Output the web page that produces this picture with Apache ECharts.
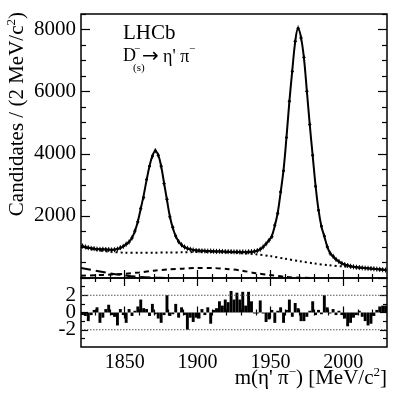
<!DOCTYPE html>
<html>
<head>
<meta charset="utf-8">
<script src="https://cdn.jsdelivr.net/npm/echarts@6/dist/echarts.min.js"></script>
<style>
  html, body { margin: 0; padding: 0; background: #fff; }
  #chart { width: 407px; height: 397px; }
</style>
</head>
<body>
<div id="chart"></div>
<script>
const SERIF = '"Liberation Serif", "DejaVu Serif", serif';

// mass range and binning (2 MeV bins)
const xMin = 1820;
const xMax = 2030;
const binWidth = 2;

// candidates per bin (bin centres 1821 ... 2029)
const counts = [
  1030, 1000, 975, 955, 945, 930, 920, 925, 920, 915,
  905, 910, 930, 975, 1020, 1090, 1160, 1290, 1510, 1810,
  2240, 2590, 3170, 3600, 3920, 4100, 3950, 3600, 3040, 2530,
  1970, 1630, 1350, 1170, 1070, 1000, 955, 925, 900, 885,
  880, 872, 870, 865, 868, 860, 858, 860, 855, 850,
  848, 850, 842, 845, 838, 842, 835, 845, 850, 860,
  880, 925, 1000, 1100, 1210, 1330, 1700, 2080, 2770, 3450,
  4520, 5690, 6650, 7620, 8040, 7730, 7100, 6010, 4940, 3950,
  2950, 2180, 1670, 1350, 1005, 795, 700, 600, 530, 470,
  432, 402, 378, 360, 347, 336, 326, 318, 311, 304,
  296, 286, 276, 265, 256
];

// total fit, same bin centres
const fitTotal = [
  1010, 990, 972, 958, 945, 935, 927, 920, 915, 912,
  912, 918, 932, 965, 1015, 1085, 1165, 1295, 1510, 1820,
  2230, 2660, 3150, 3600, 3930, 4090, 3960, 3600, 3060, 2510,
  1980, 1610, 1350, 1175, 1065, 995, 950, 922, 905, 893,
  885, 878, 872, 867, 863, 859, 855, 852, 848, 845,
  842, 838, 835, 832, 830, 828, 827, 830, 838, 852,
  878, 925, 1000, 1100, 1215, 1360, 1680, 2100, 2760, 3480,
  4520, 5680, 6680, 7600, 8040, 7740, 7080, 6020, 4930, 3940,
  2960, 2190, 1660, 1340, 1010, 800, 695, 598, 528, 472,
  433, 403, 380, 362, 348, 337, 327, 319, 311, 303,
  295, 286, 277, 266, 256
];

// background components
const bkgMass = [1820, 1830, 1840, 1850, 1860, 1870, 1880, 1890, 1900, 1910, 1920,
                 1930, 1940, 1950, 1960, 1970, 1980, 1990, 2000, 2010, 2020, 2030];
const bkgTotal = [1000, 905, 845, 815, 812, 815, 820, 828, 835, 835, 822,
                  800, 765, 705, 620, 540, 468, 412, 370, 335, 298, 255];
const longDashMass = [1820, 1830, 1840, 1850, 1860, 1870, 1880];
const longDashVals = [320, 235, 150, 85, 35, 10, 0];
const shortDashMass = [1820, 1830, 1840, 1850, 1860, 1870, 1880, 1890, 1900,
                       1910, 1920, 1930, 1940, 1950, 1960, 1970, 1980];
const shortDashVals = [70, 90, 110, 135, 180, 235, 275, 300, 325,
                       322, 292, 240, 155, 95, 35, 10, 0];

// pulls per bin
const pulls = [
  -0.3, -0.4, -1.0, -0.3, 0.3, 0.6, -1.2, -0.6, 0.4, 0.9,
  -0.3, -0.5, -1.5, 0.4, -0.3, -1.2, 0.4, -0.4, 0.2, 0.7,
  1.5, 0.5, 0.4, -0.4, 1.0, -0.2, -0.7, -1.2, -0.3, 2.0,
  -0.4, -0.2, 1.0, -0.6, 0.6, -0.3, -2.0, -0.6, -1.1, -0.6,
  -0.7, 0.4, -0.3, 0.6, -1.3, 0.3, 0.5, 1.3, 0.8, 1.5,
  1.2, 2.5, 1.5, 2.3, 1.5, 2.4, 0.8, 2.4, 1.3, -0.1,
  0.0, 1.4, -0.1, -1.1, -0.8, 0.3, -1.2, 0.2, 0.6, -1.2,
  0.3, 1.5, -0.5, 1.1, 0.5, -1.0, -1.0, -0.5, 0.2, 1.3,
  -0.3, 0.3, -0.2, 2.0, 0.6, -0.1, 0.4, -0.3, 0.2, -0.3,
  -0.7, -1.6, -1.2, -0.6, -0.3, 0.2, -0.5, -1.0, -1.5, -1.3,
  -0.4, 0.3, 0.7, 0.8, 0.8
];

// tick positions
const xMajor = [1850, 1900, 1950, 2000];
const xMinor = [1830, 1840, 1860, 1870, 1880, 1890, 1910, 1920, 1930, 1940, 1960, 1970, 1980, 1990, 2010, 2020];
const yMajor = [0, 2000, 4000, 6000, 8000];
const yLabels = [2000, 4000, 6000, 8000];
const yMinor = [500, 1000, 1500, 2500, 3000, 3500, 4500, 5000, 5500, 6500, 7000, 7500, 8500];
const pullMajor = [-2, 0, 2];
const pullMinor = [-3, -1, 1, 3];
const pullLabels = [2, 0, -2];
const pullBand = [-2, 2];

const binCenters = counts.map((_, i) => xMin + binWidth * (i + 0.5));

const chart = echarts.init(document.getElementById('chart'));

const tickStyle = { color: '#000', width: 1.2 };
const plain = (v) => String(v);

function xAxisFor(grid, pos, ticks, len, labels) {
  return {
    type: 'value', gridIndex: grid, position: pos, min: xMin, max: xMax,
    axisLine: { show: false }, splitLine: { show: false },
    axisTick: { show: true, inside: true, length: len, customValues: ticks, lineStyle: tickStyle },
    axisLabel: labels
      ? { show: true, customValues: xMajor, interval: 0, hideOverlap: false, formatter: plain,
          margin: 6, color: '#000', fontSize: 20, fontFamily: SERIF }
      : { show: false }
  };
}

function yAxisFor(grid, pos, lo, hi, ticks, len, labels) {
  return {
    type: 'value', gridIndex: grid, position: pos, min: lo, max: hi,
    axisLine: { show: false }, splitLine: { show: false },
    axisTick: ticks
      ? { show: true, inside: true, length: len, customValues: ticks, lineStyle: tickStyle }
      : { show: false },
    axisLabel: labels
      ? { show: true, customValues: labels, interval: 0, hideOverlap: false, formatter: plain,
          margin: 5, color: '#000', fontSize: 21, fontFamily: SERIF }
      : { show: false }
  };
}

const option = {
  animation: false,
  grid: [
    { left: 81, top: 14, width: 306, height: 264, show: true, borderColor: '#000', borderWidth: 1.5, backgroundColor: 'transparent' },
    { left: 81, top: 278, width: 306, height: 69, show: true, borderColor: '#000', borderWidth: 1.5, backgroundColor: 'transparent' }
  ],
  xAxis: [
    xAxisFor(0, 'bottom', xMajor, 8, false),
    xAxisFor(0, 'bottom', xMinor, 4, false),
    xAxisFor(0, 'top', xMajor, 8, false),
    xAxisFor(0, 'top', xMinor, 4, false),
    xAxisFor(1, 'bottom', xMajor, 6, true),
    xAxisFor(1, 'bottom', xMinor, 3, false),
    xAxisFor(1, 'top', xMajor, 6, false),
    xAxisFor(1, 'top', xMinor, 3, false)
  ],
  yAxis: [
    yAxisFor(0, 'left', 0, 8500, yMajor, 9, yLabels),
    yAxisFor(0, 'left', 0, 8500, yMinor, 5, null),
    yAxisFor(0, 'right', 0, 8500, yMajor, 9, null),
    yAxisFor(0, 'right', 0, 8500, yMinor, 5, null),
    yAxisFor(1, 'left', -4, 4, pullMajor, 7, null),
    yAxisFor(1, 'left', -4, 4, pullMinor, 4, null),
    yAxisFor(1, 'right', -4, 4, pullMajor, 7, null),
    yAxisFor(1, 'right', -4, 4, pullMinor, 4, null),
    // one axis per pull label so the close-packed labels are not dropped
    ...pullLabels.map((v) => yAxisFor(1, 'left', -4, 4, null, 0, [v]))
  ],
  series: [
    {
      name: 'bkg total', type: 'line', xAxisIndex: 0, yAxisIndex: 0,
      data: bkgMass.map((m, i) => [m, bkgTotal[i]]),
      smooth: 0.3, showSymbol: false, silent: true,
      lineStyle: { color: '#000', width: 2, type: [2, 3] }
    },
    {
      name: 'long dash', type: 'line', xAxisIndex: 0, yAxisIndex: 0,
      data: longDashMass.map((m, i) => [m, longDashVals[i]]),
      smooth: 0.3, showSymbol: false, silent: true,
      lineStyle: { color: '#000', width: 2, type: [10, 5] }
    },
    {
      name: 'short dash', type: 'line', xAxisIndex: 0, yAxisIndex: 0,
      data: shortDashMass.map((m, i) => [m, shortDashVals[i]]),
      smooth: 0.3, showSymbol: false, silent: true,
      lineStyle: { color: '#000', width: 2, type: [5, 4] }
    },
    {
      name: 'fit', type: 'line', xAxisIndex: 0, yAxisIndex: 0,
      data: binCenters.map((m, i) => [m, fitTotal[i]]),
      smooth: 0.4, showSymbol: false, silent: true,
      lineStyle: { color: '#000', width: 2 }
    },
    {
      name: 'data', type: 'custom', xAxisIndex: 0, yAxisIndex: 0,
      data: binCenters.map((m, i) => [m, counts[i]]),
      renderItem: (params, api) => {
        const m = api.value(0), v = api.value(1);
        const err = Math.sqrt(v);
        const c = api.coord([m, v]);
        const hi = api.coord([m, v + err]);
        const lo = api.coord([m, v - err]);
        const l = api.coord([m - binWidth / 2, v]);
        const r = api.coord([m + binWidth / 2, v]);
        return {
          type: 'group',
          children: [
            { type: 'line', shape: { x1: c[0], y1: Math.min(hi[1], c[1] - 2.5), x2: c[0], y2: Math.max(lo[1], c[1] + 2.5) }, style: { stroke: '#000', lineWidth: 1 } },
            { type: 'line', shape: { x1: l[0], y1: c[1], x2: r[0], y2: c[1] }, style: { stroke: '#000', lineWidth: 1 } },
            { type: 'circle', shape: { cx: c[0], cy: c[1], r: 1.4 }, style: { fill: '#000' } }
          ]
        };
      },
      silent: true, z: 5
    },
    ...pullBand.map((b) => ({
      name: 'band ' + b, type: 'line', xAxisIndex: 4, yAxisIndex: 4,
      data: [[xMin, b], [xMax, b]],
      showSymbol: false, silent: true,
      lineStyle: { color: '#555', width: 1, type: [1.5, 1.5] }
    })),
    {
      name: 'pull', type: 'custom', xAxisIndex: 4, yAxisIndex: 4,
      data: binCenters.map((m, i) => [m, pulls[i]]),
      renderItem: (params, api) => {
        const m = api.value(0), p = api.value(1);
        const a = api.coord([m - binWidth * 0.5, p]);
        const b = api.coord([m + binWidth * 0.5, 0]);
        return {
          type: 'rect',
          shape: { x: a[0], y: Math.min(a[1], b[1]), width: b[0] - a[0], height: Math.max(1, Math.abs(b[1] - a[1])) },
          style: { fill: '#000' }
        };
      },
      silent: true
    }
  ],
  graphic: [
    { type: 'text', x: 123, y: 33, style: { text: 'LHCb', fontSize: 21, fontFamily: SERIF, fill: '#000', align: 'left', verticalAlign: 'middle' } },
    { type: 'text', x: 123, y: 56, style: { text: 'D', fontSize: 18, fontFamily: SERIF, fill: '#000', align: 'left', verticalAlign: 'middle' } },
    { type: 'text', x: 134, y: 49, style: { text: '\u2212', fontSize: 11, fontFamily: SERIF, fill: '#000', align: 'left', verticalAlign: 'middle' } },
    { type: 'text', x: 133, y: 68, style: { text: '(s)', fontSize: 11, fontFamily: SERIF, fill: '#000', align: 'left', verticalAlign: 'middle' } },
    { type: 'text', x: 142, y: 57, style: { text: '\u2192', fontSize: 20, fontFamily: '"DejaVu Sans", sans-serif', fill: '#000', align: 'left', verticalAlign: 'middle' } },
    { type: 'text', x: 163, y: 57, style: { text: '\u03b7\' \u03c0', fontSize: 18, fontFamily: SERIF, fill: '#000', align: 'left', verticalAlign: 'middle' } },
    { type: 'text', x: 189, y: 49, style: { text: '\u2212', fontSize: 11, fontFamily: SERIF, fill: '#000', align: 'left', verticalAlign: 'middle' } },
    {
      type: 'text', x: 17, y: 12, rotation: Math.PI / 2,
      style: {
        text: '{n|Candidates / (2 MeV/c}{s|2}{n|)}',
        align: 'right', verticalAlign: 'middle',
        rich: {
          n: { fontSize: 21, fontFamily: SERIF, fill: '#000', lineHeight: 24 },
          s: { fontSize: 13, fontFamily: SERIF, fill: '#000', verticalAlign: 'top', lineHeight: 13 }
        }
      }
    },
    {
      type: 'text', x: 387, y: 378,
      style: {
        text: '{n|m(\u03b7\' \u03c0}{s|\u2212}{n|) [MeV/c}{s|2}{n|]}',
        align: 'right', verticalAlign: 'middle',
        rich: {
          n: { fontSize: 21, fontFamily: SERIF, fill: '#000', lineHeight: 24 },
          s: { fontSize: 13, fontFamily: SERIF, fill: '#000', verticalAlign: 'top', lineHeight: 13 }
        }
      }
    }
  ]
};

chart.setOption(option);
</script>
</body>
</html>
